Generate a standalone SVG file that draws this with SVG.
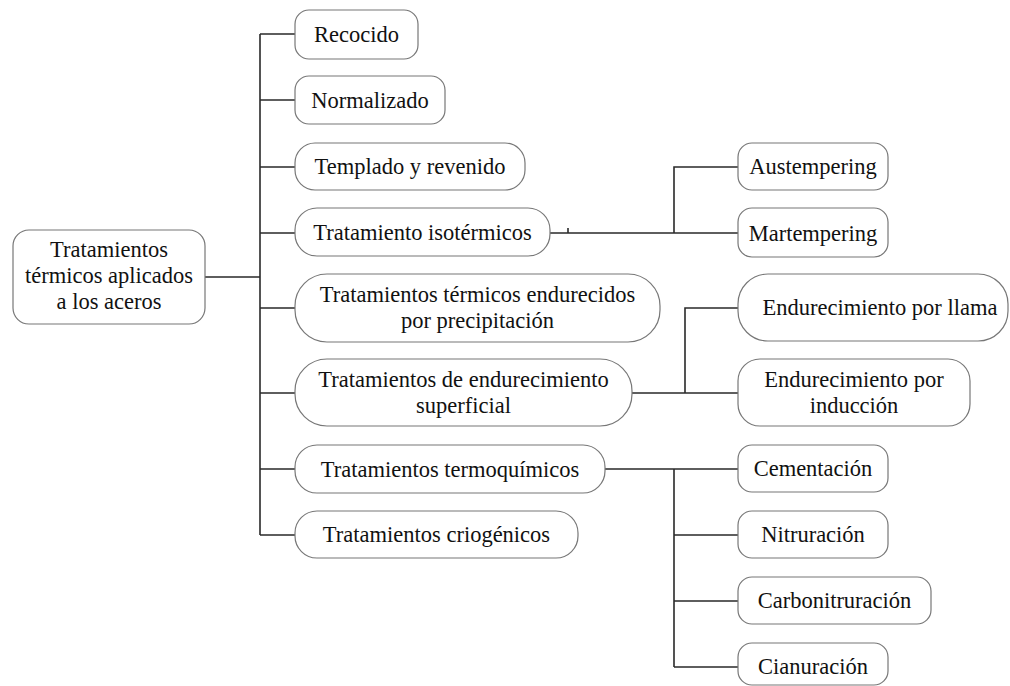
<svg xmlns="http://www.w3.org/2000/svg" width="1010" height="686" viewBox="0 0 1010 686">
<style>
.box{fill:#fff;stroke:#777;stroke-width:1.2}
.t{font-family:"Liberation Serif","Times New Roman",serif;font-size:22.5px;fill:#111;text-anchor:middle}
.c{fill:none;stroke:#2a2a2a;stroke-width:1.6}
</style>
<rect width="1010" height="686" fill="#fff"/>
<g id="connectors">
<path class="c" d="M205 277H260M260 34V535M260 34H295M260 100H295M260 167H295M260 233H295M260 308H295M260 393H295M260 469H295M260 535H295"/>
<path class="c" d="M550 233H738M568 228V233M674 233V167H738"/>
<path class="c" d="M632 393H738M685 393V308H738"/>
<path class="c" d="M605 469H738M674 469V667M674 535H738M674 601H738M674 667H738"/>
</g>
<g id="root"><rect class="box" x="13" y="230" width="192" height="94" rx="16"/><text class="t" x="109" y="257">Tratamientos</text><text class="t" x="109" y="283">térmicos aplicados</text><text class="t" x="109" y="309">a los aceros</text></g>
<g id="recocido"><rect class="box" x="295" y="10" width="123" height="49" rx="14"/><text class="t" x="356.5" y="42">Recocido</text></g>
<g id="normalizado"><rect class="box" x="295" y="76" width="150" height="48" rx="14"/><text class="t" x="370" y="107.5">Normalizado</text></g>
<g id="templado"><rect class="box" x="295" y="143" width="230" height="47" rx="20"/><text class="t" x="410" y="174">Templado y revenido</text></g>
<g id="isotermicos"><rect class="box" x="295" y="208" width="255" height="48" rx="22"/><text class="t" x="422.5" y="240">Tratamiento isotérmicos</text></g>
<g id="endurecidos"><rect class="box" x="295" y="274" width="365" height="68" rx="32"/><text class="t" x="477.5" y="302">Tratamientos térmicos endurecidos</text><text class="t" x="477.5" y="328">por precipitación</text></g>
<g id="superficial"><rect class="box" x="295" y="359" width="337" height="67" rx="32"/><text class="t" x="463.5" y="387">Tratamientos de endurecimiento</text><text class="t" x="463.5" y="413">superficial</text></g>
<g id="termoquimicos"><rect class="box" x="295" y="445" width="310" height="48" rx="22"/><text class="t" x="450" y="476.5">Tratamientos termoquímicos</text></g>
<g id="criogenicos"><rect class="box" x="295" y="511" width="283" height="47" rx="22"/><text class="t" x="436.5" y="542">Tratamientos criogénicos</text></g>
<g id="austempering"><rect class="box" x="738" y="143" width="150" height="47" rx="14"/><text class="t" x="813" y="174">Austempering</text></g>
<g id="martempering"><rect class="box" x="738" y="208" width="150" height="49" rx="14"/><text class="t" x="813" y="240.5">Martempering</text></g>
<g id="llama"><rect class="box" x="738" y="274" width="270" height="67" rx="30"/><text class="t" x="880" y="315">Endurecimiento por llama</text></g>
<g id="induccion"><rect class="box" x="738" y="359" width="232" height="67" rx="22"/><text class="t" x="854" y="387">Endurecimiento por</text><text class="t" x="854" y="413">inducción</text></g>
<g id="cementacion"><rect class="box" x="738" y="445" width="150" height="47" rx="14"/><text class="t" x="813" y="476">Cementación</text></g>
<g id="nitruracion"><rect class="box" x="738" y="511" width="150" height="47" rx="14"/><text class="t" x="813" y="542">Nitruración</text></g>
<g id="carbonitruracion"><rect class="box" x="738" y="577" width="193" height="47" rx="14"/><text class="t" x="834.5" y="608">Carbonitruración</text></g>
<g id="cianuracion"><rect class="box" x="738" y="643" width="150" height="42" rx="14"/><text class="t" x="813" y="674">Cianuración</text></g>
</svg>
